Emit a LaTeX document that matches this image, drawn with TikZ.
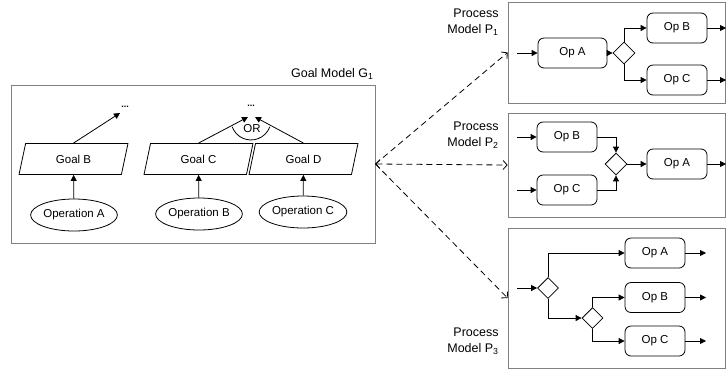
\documentclass[tikz,border=0pt]{standalone}
\usepackage{fontspec}
\setmainfont{Liberation Sans}
\usetikzlibrary{arrows.meta,shapes.geometric}
\tikzset{
  txt/.style={font=\fontsize{11.5}{13}\selectfont, inner sep=0pt},
  goal/.style={txt, draw, trapezium, trapezium left angle=74, trapezium right angle=106,
    trapezium stretches=true, minimum width=109pt, minimum height=31pt},
  oper/.style={txt, draw, ellipse, minimum width=80pt, minimum height=32pt},
  task/.style={txt, draw, rounded corners=6pt, minimum width=60pt, minimum height=30pt},
  gate/.style={draw, diamond, inner sep=0pt, minimum width=22pt, minimum height=22pt},
  frame/.style={draw=black!50, inner sep=0pt},
  lbl/.style={font=\fontsize{12.5}{16}\selectfont, align=right, inner sep=0pt},
  dots/.style={font=\fontsize{9}{9}\selectfont\bfseries, inner sep=0pt},
  link/.style={-{Triangle[length=6pt,width=6pt]}},
  refine/.style={dashed, dash pattern=on 6pt off 4pt, -{Straight Barb[length=4pt,width=9pt]}},
  both/.style={dashed, dash pattern=on 6pt off 4pt,
    {Straight Barb[length=4pt,width=9pt]}-{Straight Barb[length=4pt,width=9pt]}},
}

\begin{document}
\begin{tikzpicture}[x=1pt, y=-1pt, line width=0.8pt]
  \useasboundingbox (0,0) rectangle (727,368);

  \node[frame, minimum width=364pt, minimum height=158pt] (gm) at (193,164) {};
  \node[lbl, anchor=east] (gmlabel) at (374,74) {Goal Model G\textsubscript{1}};
  \node[goal] (goalB) at (73.5,159) {Goal B};
  \node[goal] (goalC) at (198.5,159) {Goal C};
  \node[goal] (goalD) at (303.5,159) {Goal D};
  \node[oper] (operA) at (74,215) {Operation A};
  \node[oper] (operB) at (199,214) {Operation B};
  \node[oper] (operC) at (303,212) {Operation C};
  \node[dots] (upB) at (125,107) {...};
  \node[dots] (upCD) at (251,106) {...};
  \coordinate (tipB) at (120,113);
  \coordinate (tipC) at (248,117);
  \coordinate (tipD) at (255,117);
  \draw[link] (goalB.north) -- (tipB);
  \draw[link] (goalC.north) -- (tipC);
  \draw[link] (goalD.north) -- (tipD);
  \draw (232.2,126.8) arc[start angle=160, end angle=20, radius=20];
  \node[txt] (orlabel) at (252,129) {OR};
  \draw[link] (operA) -- (goalB);
  \draw[link] (operB) -- (goalC);
  \draw[link] (operC) -- (goalD);

  \node[frame, minimum width=217pt, minimum height=101pt] (pm1) at (616.5,52.5) {};
  \node[lbl, anchor=east] (pm1label) at (499,22) {Process\\Model P\textsubscript{1}};
  \coordinate (in1) at (517,53);
  \node[task, minimum width=69pt] (opA1) at (572.5,53) {Op A};
  \node[gate] (g1) at (624,53) {};
  \node[task] (opB1) at (677,28) {Op B};
  \node[task] (opC1) at (677,80) {Op C};
  \coordinate (outB1) at (726,28);
  \coordinate (outC1) at (726,80);
  \draw[link] (in1) -- (opA1);
  \draw[link] (opA1) -- (g1);
  \draw[link] (g1.north) |- (opB1.west);
  \draw[link] (g1.south) |- (opC1.west);
  \draw[link] (opB1) -- (outB1);
  \draw[link] (opC1) -- (outC1);

  \node[frame, minimum width=217pt, minimum height=104pt] (pm2) at (616.5,165) {};
  \node[lbl, anchor=east] (pm2label) at (499,135) {Process\\Model P\textsubscript{2}};
  \coordinate (inB2) at (517,137);
  \coordinate (inC2) at (517,190);
  \node[task] (opB2) at (567,137) {Op B};
  \node[task] (opC2) at (567,190) {Op C};
  \node[gate] (g2) at (616,164) {};
  \node[task] (opA2) at (677,164) {Op A};
  \coordinate (outA2) at (726,164);
  \draw[link] (inB2) -- (opB2);
  \draw[link] (inC2) -- (opC2);
  \draw[link] (opB2.east) -| (g2.north);
  \draw[link] (opC2.east) -| (g2.south);
  \draw[link] (g2) -- (opA2);
  \draw[link] (opA2) -- (outA2);

  \node[frame, minimum width=217pt, minimum height=140pt] (pm3) at (616.5,298) {};
  \node[lbl, anchor=east] (pm3label) at (499,341) {Process\\Model P\textsubscript{3}};
  \coordinate (in3) at (517,288);
  \node[gate, minimum width=21pt, minimum height=21pt] (g31) at (548,288) {};
  \node[gate, minimum width=21pt, minimum height=21pt] (g32) at (592.5,318) {};
  \node[task] (opA3) at (655,253) {Op A};
  \node[task] (opB3) at (655,297.5) {Op B};
  \node[task] (opC3) at (655,341) {Op C};
  \coordinate (outA3) at (706,253);
  \coordinate (outB3) at (706,297.5);
  \coordinate (outC3) at (706,341);
  \draw[link] (in3) -- (g31);
  \draw[link] (g31.north) |- (opA3.west);
  \draw[link] (g31.south) |- (g32.west);
  \draw[link] (g32.north) |- (opB3.west);
  \draw[link] (g32.south) |- (opC3.west);
  \draw[link] (opA3) -- (outA3);
  \draw[link] (opB3) -- (outB3);
  \draw[link] (opC3) -- (outC3);

  \draw[refine] (gm.east) -- (pm1.west);
  \draw[both] (gm.east) -- (pm2.west);
  \draw[refine] (gm.east) -- (pm3.west);
\end{tikzpicture}
\end{document}
